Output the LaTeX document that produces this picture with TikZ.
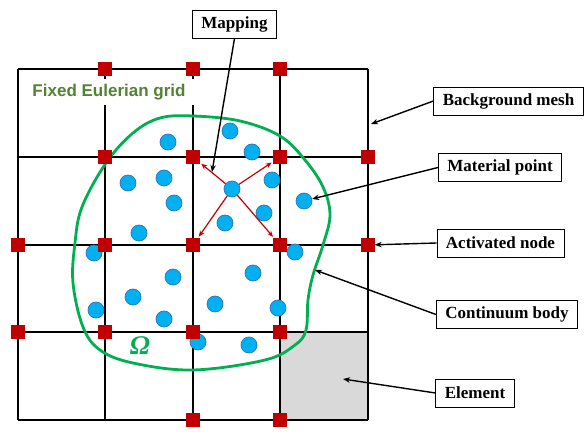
\documentclass[tikz,border=0pt]{standalone}
\usepackage{fontspec}
\setmainfont{Liberation Serif}
\setsansfont{Liberation Sans}
\usetikzlibrary{arrows.meta}
\definecolor{nodered}{HTML}{C00000}
\definecolor{mpblue}{HTML}{00B0F0}
\definecolor{mpedge}{HTML}{2E75B6}
\definecolor{bodygreen}{HTML}{00B050}
\definecolor{gridgreen}{HTML}{548235}
\definecolor{cellgray}{HTML}{D9D9D9}
\tikzset{
	gridnode/.style={draw=nodered, fill=nodered, minimum size=13pt, inner sep=0pt},
	matpt/.style={draw=mpedge, fill=mpblue, circle, minimum size=16pt, inner sep=0pt, line width=0.7pt},
	labelbox/.style={draw, fill=white, font=\fontsize{17}{20}\selectfont\bfseries, minimum height=28pt, inner xsep=9pt, line width=0.8pt},
	pointer/.style={-{Stealth[length=7pt,width=5.5pt]}, line width=1.4pt},
	maparrow/.style={-{Stealth[length=6pt,width=5pt]}, line width=1.2pt, nodered, shorten >=2pt},
}
\begin{document}
\begin{tikzpicture}[x=1pt, y=-1pt]
		\useasboundingbox (0,0) rectangle (586,435);
		% element cell and background mesh
		\fill[cellgray] (280,332) rectangle (368,420);
		\foreach \x in {18,105,193,280,368}{\draw[line width=2pt] (\x,69) -- (\x,420);}
		\foreach \y in {69,157,245,332,420}{\draw[line width=2pt] (18,\y) -- (368,\y);}
		\node[fill=white, text=gridgreen, font=\sffamily\bfseries\fontsize{17}{20}\selectfont, inner xsep=11pt, inner ysep=5.5pt] (eulerian) at (109,92) {Fixed Eulerian grid};
		% continuum body
		\draw[bodygreen, line width=2.8pt] plot[smooth cycle, tension=0.6] coordinates {(193,116) (240,121) (280,136) (305,160) (323,187) (330,215) (323,245) (313,275) (308,300) (306,330) (295,345) (265,360) (193,370) (133,363) (100,350) (83,327) (73,283) (75,243) (82,207) (106,163) (133,133) (160,118)};
		\node[text=bodygreen, font=\fontsize{27}{27}\selectfont\bfseries\itshape] (omega) at (140,346) {Ω};
		% material points
		\foreach \n/\x/\y in {1/230/131, 2/252/152, 3/168/142, 4/128/183, 5/164/178, 6/174/203,
				7/232/189, 8/272/180, 9/304/201, 10/264/213, 11/225/223, 12/139/233,
				13/94/253, 14/295/252, 15/173/277, 16/253/273, 17/133/297, 18/96/310,
				19/164/319, 20/215/304, 21/278/308, 22/198/342, 23/249/345}{
			\node[matpt] (p\n) at (\x,\y) {};}
		% activated nodes
		\foreach \i/\j/\x/\y in {1/0/105/69, 2/0/193/69, 3/0/280/69,
				1/1/105/157, 2/1/193/157, 3/1/280/157, 4/1/368/157,
				0/2/18/245, 1/2/105/245, 2/2/193/245, 3/2/280/245, 4/2/368/245,
				0/3/18/332, 1/3/105/332, 2/3/193/332, 3/3/280/332,
				2/4/193/420, 3/4/280/420}{
			\node[gridnode] (g\i\j) at (\x,\y) {};}
		\foreach \g in {21,31,22,32}{\draw[maparrow] (p7) -- (g\g);}
		% labels
		\node[labelbox] (mapping) at (234.5,24) {Mapping};
		\node[labelbox] (meshlabel) at (508.5,101) {Background mesh};
		\node[labelbox] (pointlabel) at (500,167.5) {Material point};
		\node[labelbox] (activelabel) at (500.5,243) {Activated node};
		\node[labelbox] (bodylabel) at (507,314.5) {Continuum body};
		\node[labelbox] (elemlabel) at (475,393) {Element};
		\coordinate (mapend) at (212,172);
		\coordinate (meshend) at (371,124);
		\coordinate (bodyend) at (315,270);
		\coordinate (elemend) at (343,379);
		\draw[pointer] (mapping.south) -- (mapend);
		\draw[pointer] (meshlabel.west) -- (meshend);
		\draw[pointer] (pointlabel.west) -- (p9);
		\draw[pointer] (activelabel.west) -- (g42);
		\draw[pointer] (bodylabel.west) -- (bodyend);
		\draw[pointer] (elemlabel.west) -- (elemend);
	\end{tikzpicture}
\end{document}
